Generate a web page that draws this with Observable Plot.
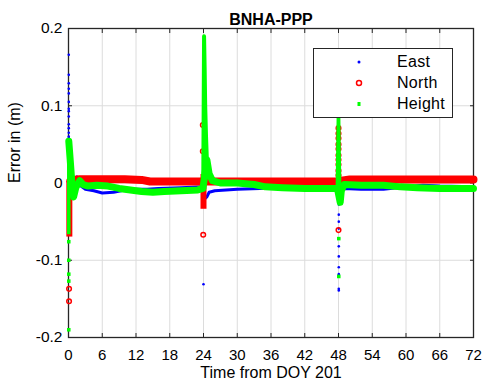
<!DOCTYPE html>
<html>
<head>
<meta charset="utf-8">
<script src="https://cdn.jsdelivr.net/npm/d3@7"></script>
<script src="https://cdn.jsdelivr.net/npm/@observablehq/plot@0.6"></script>
<style>
  html, body { margin: 0; padding: 0; background: #fff; }
  #wrap { position: relative; width: 485px; height: 390px; font-family: "Liberation Sans", Arial, sans-serif; }
  #legend { position: absolute; left: 313px; top: 48px; width: 140px; height: 70px; box-sizing: border-box;
            border: 1.3px solid #262626; background: #fff; }
  .row { position: absolute; left: 0; width: 100%; height: 20px; }
  .row svg { position: absolute; left: 38px; top: 0; }
  .row span { position: absolute; left: 83px; top: 1px; font-size: 16px; line-height: 18px; color: #000; letter-spacing: 0.3px; }
</style>
</head>
<body>
<div id="wrap"></div>
<script>
const title = "BNHA-PPP";
const xLabel = "Time from DOY 201";
const yLabel = "Error in (m)";
const seriesNames = ["East", "North", "Height"];
const xTicks = [0, 6, 12, 18, 24, 30, 36, 42, 48, 54, 60, 66, 72];
const yTicks = [-0.2, -0.1, 0, 0.1, 0.2];

// East (blue) trend
const eastT = [0.3, 0.6, 1.0, 1.5, 2.2, 3, 4.5, 6, 8, 10, 12, 14, 16, 20, 23.8, 24.3, 24.6, 25, 26, 28, 30, 34, 38, 44, 47.8, 48.3, 49, 52, 56, 60, 63, 66, 72];
const eastV = [0.0, -0.012, 0.004, 0.008, -0.004, -0.008, -0.010, -0.013, -0.012, -0.009, -0.008, -0.008, -0.007, -0.006, -0.005, -0.02, -0.018, -0.012, -0.01, -0.009, -0.008, -0.007, -0.006, -0.006, -0.006, -0.012, -0.007, -0.008, -0.008, -0.005, -0.003, -0.004, -0.005];
// East scattered points at the restarts
const eastPtT = [0.05,0.05,0.05,0.05,0.05,0.05,0.05,0.05,0.05,0.05,0.05,0.05,0.05, 24.0,24.0,24.0, 48.05,48.05,48.05,48.05,48.05,48.05,48.05,48.05,48.05,48.05];
const eastPtV = [0.166,0.140,0.129,0.122,0.116,0.105,0.096,0.093,0.086,0.076,0.071,0.065,0.06, 0.157,0.136,-0.131, -0.041,-0.05,-0.059,-0.072,-0.082,-0.095,-0.109,-0.118,-0.137,-0.139];
// East dense vertical runs
const eastRunT = [0.05, 24.3, 48.05];
const eastRunLo = [0.0, -0.005, -0.03];
const eastRunHi = [0.06, 0.067, -0.011];

// North (red) trend
const northT = [0.5, 0.8, 2, 6, 10, 13, 14.5, 20, 23.9, 24.5, 30, 40, 47.9, 48.5, 50, 60, 72];
const northV = [-0.01, 0.004, 0.005, 0.005, 0.005, 0.004, 0.002, 0.002, 0.002, 0.002, 0.002, 0.002, 0.002, 0.003, 0.0045, 0.0045, 0.0045];
const northPtT = [0.1, 0.1, 0.15, 23.88, 23.88, 23.95, 48.0, 48.0, 48.0, 48.0, 48.0, 48.0, 48.0, 48.0, 48.0, 48.0, 48.0];
const northPtV = [-0.137, -0.153, 0.003, 0.075, 0.041, -0.067, 0.071, 0.064, 0.058, 0.05, 0.044, 0.036, 0.03, 0.024, 0.016, 0.01, -0.061];
const northRunT = [0.15, 24.0];
const northRunLo = [-0.07, -0.034];
const northRunHi = [0.002, 0.011];

// Height (green) trend
const heightT = [0.05, 0.3, 0.6, 0.9, 1.3, 2.0, 2.6, 3.5, 5, 7, 9, 11, 13, 15, 17, 20, 23, 23.9, 24.6, 25, 25.6, 27, 30, 33, 35, 38, 42, 47.8, 48.3, 48.5, 49, 52, 56, 59, 62, 66, 72];
const heightV = [0.054, 0.03, 0.0, -0.018, -0.006, 0.003, -0.002, -0.004, -0.003, -0.004, -0.007, -0.009, -0.011, -0.012, -0.011, -0.01, -0.009, -0.007, 0.03, 0.012, 0.003, 0.0, 0.0, -0.002, -0.005, -0.006, -0.007, -0.007, -0.025, -0.01, -0.002, -0.003, -0.003, -0.005, -0.006, -0.007, -0.007];
// Height spikes after the restarts at 24 h and 48 h
const heightSpike24T = [23.95, 24.1, 24.2, 24.3, 24.45, 24.6];
const heightSpike24V = [-0.007, 0.19, 0.15, 0.1, 0.06, 0.03];
const heightSpike48T = [47.8, 48.0, 48.1, 48.2, 48.3];
const heightSpike48V = [-0.007, 0.1, 0.04, 0.0, -0.025];
const heightPtT = [0.05, 0.05, 0.05, 0.05, 0.05, 48.05, 48.05];
const heightPtV = [-0.076, -0.1, -0.118, -0.127, -0.19, -0.072, -0.121];
const heightRunT = [0.05];
const heightRunLo = [-0.067];
const heightRunHi = [0.054];

const colors = ["#0000ff", "#ff0000", "#00ff00"];

const rows = (T, V) => T.map((t, i) => ({t, v: V[i]}));
const runs = (T, L, H) => T.map((t, i) => ({t, lo: L[i], hi: H[i]}));

const ink = "#262626";
const chart = Plot.plot({
  width: 485,
  height: 390,
  marginLeft: 68,
  marginRight: 12,
  marginTop: 28,
  marginBottom: 53,
  style: {fontFamily: "'Liberation Sans', Arial, sans-serif", fontSize: "15px", color: ink, background: "#fff"},
  x: {domain: [0, 72]},
  y: {domain: [-0.2, 0.2]},
  marks: [
    Plot.gridX(xTicks, {stroke: "#dcdcdc", strokeOpacity: 1}),
    Plot.gridY(yTicks, {stroke: "#dcdcdc", strokeOpacity: 1}),
    Plot.frame({stroke: ink, strokeWidth: 1.3}),
    Plot.axisX(xTicks, {anchor: "bottom", tickSize: -4, tickPadding: 16, label: null, fontSize: 15, stroke: ink, fill: "#000",
      style: {letterSpacing: "0.4px"}}),
    Plot.axisX(xTicks, {anchor: "top", tickSize: -4, tickFormat: () => "", label: null, stroke: ink}),
    Plot.axisY(yTicks, {anchor: "left", tickSize: -4, tickPadding: 10, label: null, fontSize: 15.5, stroke: ink, fill: "#000",
      tickFormat: d => d === 0 ? "0" : d.toFixed(1)}),
    Plot.axisY(yTicks, {anchor: "right", tickSize: -4, tickFormat: () => "", label: null, stroke: ink}),
    // East
    Plot.ruleX(runs(eastRunT, eastRunLo, eastRunHi), {x: "t", y1: "lo", y2: "hi", stroke: colors[0], strokeWidth: 2}),
    Plot.line(rows(eastT, eastV), {x: "t", y: "v", stroke: colors[0], strokeWidth: 3, strokeLinejoin: "round"}),
    Plot.dot(rows(eastPtT, eastPtV), {x: "t", y: "v", r: 1.3, fill: colors[0], stroke: null}),
    // North
    Plot.ruleX(runs(northRunT, northRunLo, northRunHi), {x: "t", y1: "lo", y2: "hi", stroke: colors[1], strokeWidth: 6}),
    Plot.line(rows(northT, northV), {x: "t", y: "v", stroke: colors[1], strokeWidth: 8, strokeLinejoin: "round"}),
    Plot.dot(rows(northPtT, northPtV), {x: "t", y: "v", r: 2.3, stroke: colors[1], strokeWidth: 1.5, fill: "none"}),
    // Height
    Plot.ruleX(runs(heightRunT, heightRunLo, heightRunHi), {x: "t", y1: "lo", y2: "hi", stroke: colors[2], strokeWidth: 3.5}),
    Plot.line(rows(heightT, heightV), {x: "t", y: "v", stroke: colors[2], strokeWidth: 7, strokeLinejoin: "round"}),
    Plot.line(rows(heightSpike24T, heightSpike24V), {x: "t", y: "v", stroke: colors[2], strokeWidth: 4, strokeLinejoin: "round"}),
    Plot.line(rows(heightSpike48T, heightSpike48V), {x: "t", y: "v", stroke: colors[2], strokeWidth: 3.5, strokeLinejoin: "round"}),
    Plot.dot(rows(heightPtT, heightPtV), {x: "t", y: "v", r: 2, symbol: "square", fill: colors[2], stroke: null}),
    // text
    Plot.text([title], {frameAnchor: "top", dy: -15, fontWeight: "bold", fontSize: 16, fill: "#000"}),
    Plot.text([xLabel], {frameAnchor: "bottom", dy: 40, fontSize: 16, fill: "#000"}),
    Plot.text([yLabel], {frameAnchor: "left", dx: -54, rotate: -90, fontSize: 16, fill: "#000"})
  ]
});

const wrap = document.getElementById("wrap");
wrap.appendChild(chart);

const legend = document.createElement("div");
legend.id = "legend";
const markers = [
  `<svg width="14" height="20"><circle cx="7" cy="10" r="1.5" fill="${colors[0]}"/></svg>`,
  `<svg width="14" height="20"><circle cx="7" cy="10" r="2.5" fill="none" stroke="${colors[1]}" stroke-width="1.5"/></svg>`,
  `<svg width="14" height="20"><rect x="5.5" y="8" width="3" height="4" fill="${colors[2]}"/></svg>`
];
const rowTops = [3, 24, 45];
seriesNames.forEach((name, i) => {
  const r = document.createElement("div");
  r.className = "row";
  r.style.top = rowTops[i] + "px";
  r.innerHTML = markers[i] + `<span>${name}</span>`;
  legend.appendChild(r);
});
wrap.appendChild(legend);
</script>
</body>
</html>
